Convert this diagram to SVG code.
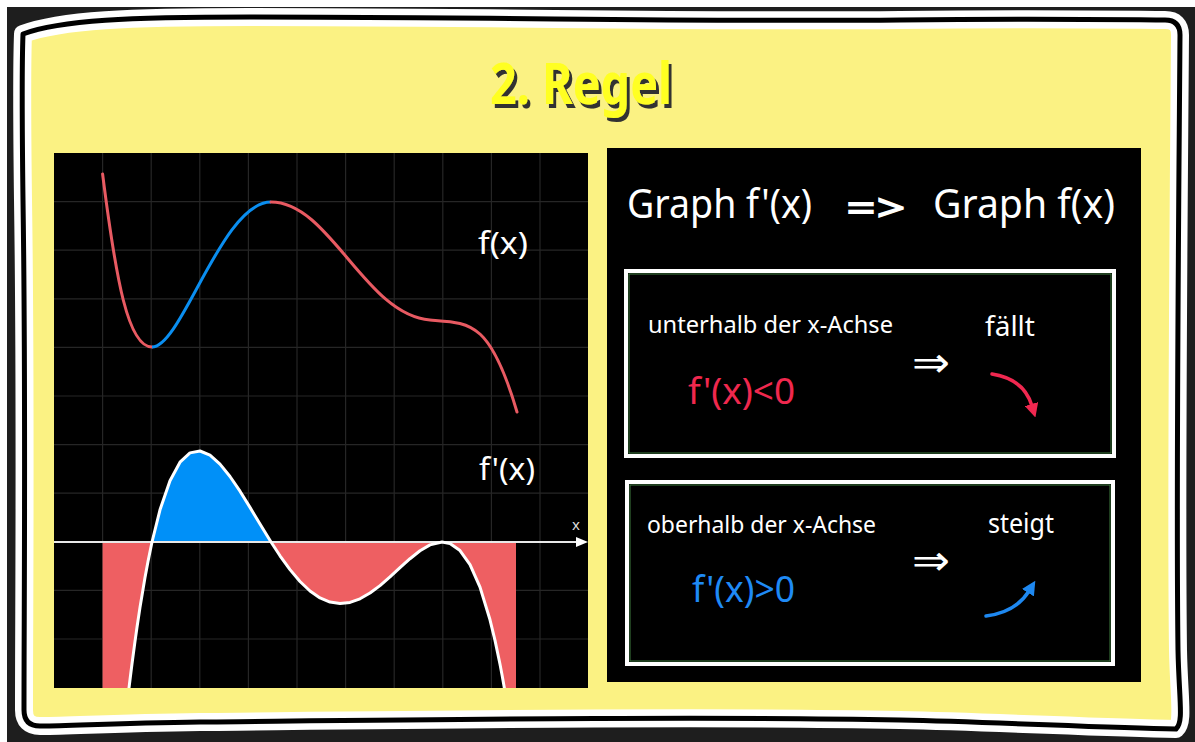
<svg xmlns="http://www.w3.org/2000/svg" width="1195" height="742" viewBox="0 0 1195 742">
<style>
.hand{font-family:"Noto Sans","DejaVu Sans",sans-serif;}
.wt{fill:#ffffff;}
.grid line{stroke:#262626;stroke-width:1.2;}
.box{fill:none;stroke:#ffffff;stroke-width:4;}
.boxin{fill:none;stroke:#3f7d3f;stroke-width:1;}
.panel{fill:#000000;}
</style>
<defs>
<clipPath id="lp"><rect x="54" y="153" width="534" height="535"/></clipPath>
<filter id="shadow" x="-10%" y="-20%" width="130%" height="150%"><feDropShadow dx="3" dy="4" stdDeviation="0.6" flood-color="#333333" flood-opacity="1"/></filter>
<marker id="ahW" viewBox="0 0 12 10" refX="2" refY="5" markerWidth="12" markerHeight="10" markerUnits="userSpaceOnUse" orient="auto"><path d="M0,0 L12,5 L0,10 z" fill="#ffffff"/></marker>
<marker id="ahR" viewBox="0 0 14 14" refX="2" refY="7" markerWidth="14" markerHeight="14" markerUnits="userSpaceOnUse" orient="auto"><path d="M0,0 L14,7 L0,14 z" fill="#f02850"/></marker>
<marker id="ahB" viewBox="0 0 14 14" refX="2" refY="7" markerWidth="14" markerHeight="14" markerUnits="userSpaceOnUse" orient="auto"><path d="M0,0 L14,7 L0,14 z" fill="#1e88f0"/></marker>
</defs>

<rect x="0" y="0" width="1195" height="742" fill="#ffffff"/>
<rect x="7" y="7" width="1188" height="735" fill="#1e1e1e"/>

<g id="frame">
<path d="M23,34 C60,20 130,17 250,17 C500,17 700,22 900,20 C1050,18 1140,20 1165,20 Q1180,20 1180,35 C1178,300 1176,500 1178,650 C1179,700 1184,722 1176,729 C1100,728 1000,722 900,720 C700,716 400,720 200,722 C120,723 60,726 40,726 Q24,726 24,710 C24,600 26,400 23,200 C22,120 22,60 23,34 Z" fill="#fbf283" stroke="#ffffff" stroke-width="18" stroke-linejoin="round"/>
<path d="M23,34 C60,20 130,17 250,17 C500,17 700,22 900,20 C1050,18 1140,20 1165,20 Q1180,20 1180,35 C1178,300 1176,500 1178,650 C1179,700 1184,722 1176,729 C1100,728 1000,722 900,720 C700,716 400,720 200,722 C120,723 60,726 40,726 Q24,726 24,710 C24,600 26,400 23,200 C22,120 22,60 23,34 Z" fill="none" stroke="#000000" stroke-width="5" stroke-linejoin="round"/>
</g>

<g id="title">
<text class="hand" x="490" y="104" font-size="58" font-weight="bold" fill="#ffff22" filter="url(#shadow)" textLength="182" lengthAdjust="spacingAndGlyphs">2. Regel</text>
</g>

<g id="left-panel">
<rect class="panel" x="54" y="153" width="534" height="535"/>
<g class="grid">
<line x1="102.6" y1="153" x2="102.6" y2="688"/><line x1="151.2" y1="153" x2="151.2" y2="688"/><line x1="199.8" y1="153" x2="199.8" y2="688"/><line x1="248.4" y1="153" x2="248.4" y2="688"/><line x1="297" y1="153" x2="297" y2="688"/><line x1="345.6" y1="153" x2="345.6" y2="688"/><line x1="394.2" y1="153" x2="394.2" y2="688"/><line x1="442.8" y1="153" x2="442.8" y2="688"/><line x1="491.4" y1="153" x2="491.4" y2="688"/><line x1="540" y1="153" x2="540" y2="688"/>
<line x1="54" y1="201.6" x2="588" y2="201.6"/><line x1="54" y1="250.2" x2="588" y2="250.2"/><line x1="54" y1="298.8" x2="588" y2="298.8"/><line x1="54" y1="347.4" x2="588" y2="347.4"/><line x1="54" y1="396" x2="588" y2="396"/><line x1="54" y1="444.6" x2="588" y2="444.6"/><line x1="54" y1="493.2" x2="588" y2="493.2"/><line x1="54" y1="590.4" x2="588" y2="590.4"/><line x1="54" y1="639" x2="588" y2="639"/>
</g>
<g clip-path="url(#lp)">
<path id="fillBlue" fill="#0090f8" d="M152,542 L160,509.8 L170,480.7 L180,462.2 L190,452.9 L200,451 L210,455.2 L220,464.1 L230,476.5 L240,491.2 L250,507.4 L260,524.1 L271,542 Z"/>
<path id="fillRedL" fill="#ee5f62" d="M102.6,542 L102.6,688 L129,688 L130,679.7 L132,663.8 L135,641.4 L137,627.3 L140,607.4 L145,577.5 L148,561.4 L152,542 Z"/>
<path id="fillRedM" fill="#ee5f62" d="M271,542 L280,555.8 L290,569.6 L300,581.5 L310,591 L320,597.9 L330,602.1 L340,603.5 L350,602.4 L360,598.8 L370,593 L380,585.6 L390,576.9 L400,567.7 L410,558.7 L420,550.8 L430,544.9 L442,542 Z"/>
<path id="fillRedR" fill="#ee5f62" d="M442,542 L450,543.6 L460,550.6 L470,564.6 L480,587.1 L490,619.8 L495,640.4 L500,664.2 L502,674.7 L504.4,688 L516,688 L516,542 Z"/>
<line x1="54" y1="542" x2="578" y2="542" stroke="#e8e8e8" stroke-width="2" marker-end="url(#ahW)"/>
<polyline id="fprime" fill="none" stroke="#ffffff" stroke-width="3" stroke-linejoin="round" stroke-linecap="round" points="128,696.3 130,679.7 132,663.8 135,641.4 137,627.3 140,607.4 145,577.5 148,561.4 152,542 160,509.8 170,480.7 180,462.2 190,452.9 200,451 210,455.2 220,464.1 230,476.5 240,491.2 250,507.4 260,524.1 271,542 280,555.8 290,569.6 300,581.5 310,591 320,597.9 330,602.1 340,603.5 350,602.4 360,598.8 370,593 380,585.6 390,576.9 400,567.7 410,558.7 420,550.8 430,544.9 442,542 450,543.6 460,550.6 470,564.6 480,587.1 490,619.8 495,640.4 500,664.2 502,674.7 505,691.5"/>
<path id="fRed1" fill="none" stroke="#e85a62" stroke-width="3" stroke-linecap="round" d="M102.6,174 C116,280 128,347 152,347"/>
<path id="fBlue" fill="none" stroke="#0a8ef0" stroke-width="3" d="M152,347 C182,347 222,202 271,202"/>
<path id="fRed2" fill="none" stroke="#e85a62" stroke-width="3" stroke-linecap="round" d="M271,202 C330,202 365,315 430,320 C470,323 490,320 517,412"/>
</g>
<text class="hand wt" x="478" y="254" font-size="30" textLength="50" lengthAdjust="spacingAndGlyphs">f(x)</text>
<text class="hand wt" x="479" y="480" font-size="30" textLength="56" lengthAdjust="spacingAndGlyphs">f'(x)</text>
<text class="hand" x="572" y="530" font-size="15" fill="#dddddd">x</text>
</g>

<g id="right-panel">
<rect class="panel" x="607" y="148" width="534" height="534"/>
<text class="hand wt" x="627" y="218" font-size="40" textLength="185" lengthAdjust="spacingAndGlyphs">Graph f'(x)</text>
<text class="hand wt" x="846" y="222" font-size="40" font-weight="bold" textLength="60" lengthAdjust="spacingAndGlyphs">=&gt;</text>
<text class="hand wt" x="933" y="218" font-size="40" textLength="182" lengthAdjust="spacingAndGlyphs">Graph f(x)</text>
</g>

<g id="box-below">
<rect class="box" x="626" y="271" width="488" height="185"/>
<rect class="boxin" x="629" y="274" width="482" height="179"/>
<text class="hand wt" x="648" y="333" font-size="24" textLength="245" lengthAdjust="spacingAndGlyphs">unterhalb der x-Achse</text>
<text class="hand wt" x="985" y="336" font-size="27" textLength="50" lengthAdjust="spacingAndGlyphs">fällt</text>
<text x="912" y="377" font-family="DejaVu Sans, sans-serif" font-size="42" fill="#ffffff" textLength="38" lengthAdjust="spacingAndGlyphs">⇒</text>
<text class="hand" x="688" y="404" font-size="36" fill="#f0284e" textLength="107" lengthAdjust="spacingAndGlyphs">f'(x)&lt;0</text>
</g>

<g id="box-above">
<rect class="box" x="627" y="482" width="486" height="182"/>
<rect class="boxin" x="630" y="485" width="480" height="176"/>
<text class="hand wt" x="647" y="533" font-size="24" textLength="229" lengthAdjust="spacingAndGlyphs">oberhalb der x-Achse</text>
<text class="hand wt" x="988" y="533" font-size="27" textLength="66" lengthAdjust="spacingAndGlyphs">steigt</text>
<text x="912" y="575" font-family="DejaVu Sans, sans-serif" font-size="42" fill="#ffffff" textLength="38" lengthAdjust="spacingAndGlyphs">⇒</text>
<text class="hand" x="692" y="602" font-size="36" fill="#1f8af5" textLength="103" lengthAdjust="spacingAndGlyphs">f'(x)&gt;0</text>
</g>

<g id="connectors">
<path d="M992,374 Q1024,379 1032,406" fill="none" stroke="#f02850" stroke-width="3.5" stroke-linecap="round" marker-end="url(#ahR)"/>
<path d="M986,616 Q1016,612 1029,591" fill="none" stroke="#1e88f0" stroke-width="3.5" stroke-linecap="round" marker-end="url(#ahB)"/>
</g>
</svg>
